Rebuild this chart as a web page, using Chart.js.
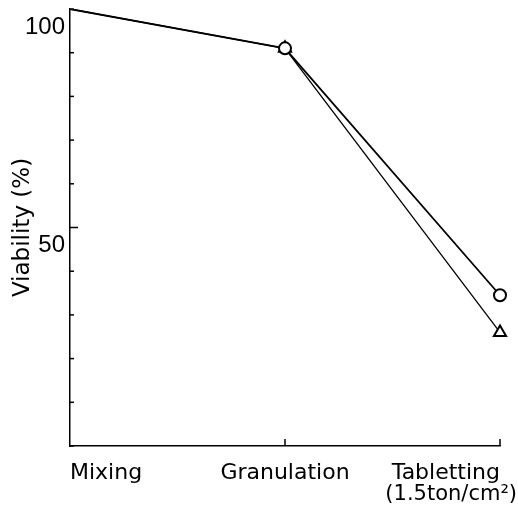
<!DOCTYPE html>
<html>
<head>
<meta charset="utf-8">
<script src="https://cdn.jsdelivr.net/npm/chart.js@4"></script>
<style>
  html, body { margin: 0; padding: 0; background: #fff; }
  #wrap { width: 518px; height: 508px; }
</style>
</head>
<body>
<div id="wrap"><canvas id="c" width="518" height="508"></canvas></div>
<script>
// Processing stages
const stages = ['Mixing', 'Granulation', 'Tabletting'];
const stageNote = '(1.5ton/cm²)';

// Viability (%) after each stage
const viabilityCircle = [100, 91, 34.5];
const viabilityTriangle = [100, 91, 26];

// Y axis
const yMin = 0;
const yMax = 100;
const yStep = 10;
const yLabelled = [100, 50];

const FONT = '"DejaVu Sans", "Liberation Sans", sans-serif';
const TICK_FONT = '"Liberation Sans", Arial, sans-serif';

// Short tick marks drawn inside the plot, plus the pressure note under the last stage
const innerTicks = {
  id: 'innerTicks',
  afterDraw(chart) {
    const { ctx, chartArea, scales } = chart;
    const y = scales.y, x = scales.x;
    ctx.save();
    ctx.strokeStyle = '#000';
    ctx.lineWidth = 1.5;
    y.ticks.forEach(t => {
      const py = y.getPixelForValue(t.value);
      const len = t.value === 50 ? 8 : 4;
      ctx.beginPath();
      ctx.moveTo(chartArea.left, py);
      ctx.lineTo(chartArea.left + len, py);
      ctx.stroke();
    });
    for (let i = 1; i < stages.length; i++) {
      const px = x.getPixelForValue(i);
      ctx.beginPath();
      ctx.moveTo(px, chartArea.bottom);
      ctx.lineTo(px, chartArea.bottom - 7);
      ctx.stroke();
    }
    ctx.fillStyle = '#000';
    ctx.font = '21px ' + FONT;
    ctx.textAlign = 'right';
    ctx.textBaseline = 'middle';
    ctx.fillText(stageNote, x.getPixelForValue(stages.length - 1) + 17, 495);
    ctx.restore();
  }
};

new Chart(document.getElementById('c'), {
  type: 'line',
  data: {
    labels: stages,
    datasets: [
      {
        data: viabilityCircle,
        borderColor: '#000',
        borderWidth: 1.8,
        pointStyle: 'circle',
        pointRadius: [0, 6, 6],
        pointBorderWidth: 2,
        pointBackgroundColor: '#fff',
        pointBorderColor: '#000',
        tension: 0
      },
      {
        data: viabilityTriangle,
        borderColor: '#000',
        borderWidth: 1.3,
        pointStyle: 'triangle',
        pointRadius: [0, 7, 7],
        pointBorderWidth: 2,
        pointBackgroundColor: '#fff',
        pointBorderColor: '#000',
        tension: 0
      }
    ]
  },
  options: {
    responsive: false,
    animation: false,
    layout: { padding: { top: 9, right: 18, left: 0, bottom: 0 } },
    plugins: { legend: { display: false }, tooltip: { enabled: false } },
    scales: {
      x: {
        type: 'category',
        offset: false,
        grid: { display: false, drawTicks: false },
        border: { display: true, color: '#000', width: 1.5 },
        ticks: {
          align: 'inner',
          maxRotation: 0,
          autoSkip: false,
          padding: 14,
          color: '#000',
          font: { family: FONT, size: 22 }
        },
        afterFit(scale) { scale.height = 62; }
      },
      y: {
        min: yMin,
        max: yMax,
        grid: { display: false, drawTicks: false },
        border: { display: true, color: '#000', width: 1.5 },
        ticks: {
          stepSize: yStep,
          padding: 5,
          labelOffset: 18,
          color: '#000',
          font: { family: TICK_FONT, size: 24 },
          callback: v => (yLabelled.includes(v) ? String(v) : '')
        },
        title: {
          display: true,
          text: 'Viability (%)',
          color: '#000',
          font: { family: FONT, size: 23 },
          padding: { top: 9, bottom: 0 }
        },
        afterFit(scale) {
          scale.width = 70;
          scale.paddingTop = 0;
          scale.paddingBottom = 0;
        }
      }
    }
  },
  plugins: [innerTicks]
});
</script>
</body>
</html>
